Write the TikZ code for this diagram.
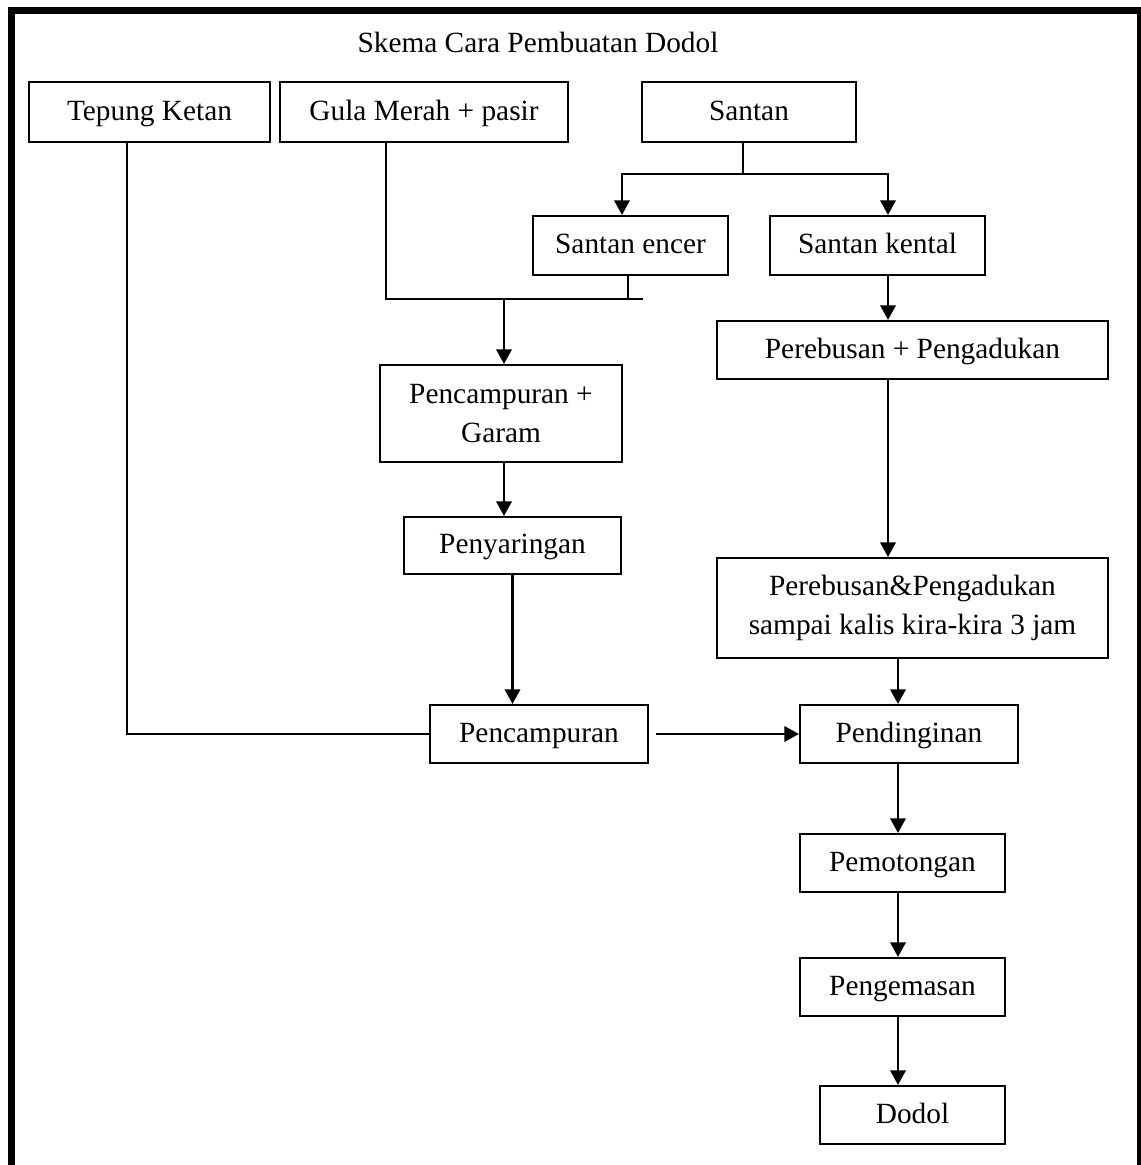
\documentclass[tikz,border=0pt]{standalone}
\usepackage{fontspec}
\setmainfont{Liberation Serif}
\usetikzlibrary{arrows.meta}
\newcommand{\mybox}[7][]{%
  \pgfmathsetmacro{\bxcx}{(#3+#5)/2}%
  \pgfmathsetmacro{\bxcy}{(#4+#6)/2}%
  \pgfmathsetmacro{\bxw}{(#5-#3)*0.75}%
  \pgfmathsetmacro{\bxh}{(#6-#4)*0.75}%
  \node[box, #1, minimum width=\bxw pt, minimum height=\bxh pt] (#2) at (\bxcx,\bxcy) {#7};}
\begin{document}
\begin{tikzpicture}[x=0.75pt, y=-0.75pt,
  box/.style={draw, line width=1.5pt, inner sep=0pt, align=center,
    font=\fontsize{22}{29.5}\selectfont},
  oneline/.style={text height=16pt, text depth=4pt},
  conn/.style={line width=1.9pt},
  arr/.style={line width=1.9pt, -{Triangle[length=11pt, width=11.5pt]}}]
\useasboundingbox (0,0) rectangle (1141,1165);
\fill[white] (0,0) rectangle (1141,1165);
% frame
\draw[line width=5.2pt] (11.5,1166) -- (11.5,10.5) -- (1140,10.5) -- (1140,1166);
% title
\node[font=\fontsize{22}{29.5}\selectfont, text height=16pt, text depth=4pt] (title) at (538,44) {Skema Cara Pembuatan Dodol};
% boxes
\mybox[oneline]{tepung}{29}{82}{270}{142}{Tepung Ketan}
\mybox[oneline]{gula}{280}{82}{568}{142}{Gula Merah + pasir}
\mybox[oneline]{santan}{642}{82}{856}{142}{Santan}
\mybox[oneline]{encer}{533}{216}{728}{275}{Santan encer}
\mybox[oneline]{kental}{770}{216}{985}{275}{Santan kental}
\mybox{pgaram}{380}{365}{622}{462}{Pencampuran +\\Garam}
\mybox[oneline]{peny}{404}{517}{621}{574}{Penyaringan}
\mybox[oneline]{campur}{430}{705}{648}{763}{Pencampuran}
\mybox[oneline]{rebusA}{717}{321}{1108}{379}{Perebusan + Pengadukan}
\mybox{rebusB}{717}{558}{1108}{658}{Perebusan\&Pengadukan\\sampai kalis kira-kira 3 jam}
\mybox[oneline]{dingin}{800}{705}{1018}{763}{Pendinginan}
\mybox[oneline]{potong}{800}{834}{1005}{892}{Pemotongan}
\mybox[oneline]{kemas}{800}{958}{1005}{1016}{Pengemasan}
\mybox[oneline]{dodol}{820}{1086}{1005}{1144}{Dodol}
% helper coordinates
\coordinate (jS) at (743,174);
\coordinate (jG) at (504,299);
\coordinate (xE) at (622,0);
\coordinate (xK) at (888,0);
\coordinate (xP) at (898,0);
\coordinate (xGula) at (386,0);
\coordinate (xEnc) at (628,0);
\coordinate (xTep) at (127,0);
\coordinate (jEnd) at (643,299);
% santan split
\draw[conn] (santan.south -| jS) -- (jS);
\draw[arr] (jS) -| (xE |- encer.north);
\draw[arr] (jS) -| (xK |- kental.north);
% gula + santan encer
\draw[conn] (xGula |- gula.south) |- (jEnd);
\draw[conn] (xEnc |- encer.south) -- (xEnc |- jG);
\draw[arr] (jG) -- (jG |- pgaram.north);
\draw[arr] (jG |- pgaram.south) -- (jG |- peny.north);
\draw[arr] (peny.south) -- (peny.south |- campur.north);
% tepung
\draw[conn] (xTep |- tepung.south) |- (campur.west);
% pencampuran -> pendinginan
\draw[arr] ([xshift=5pt]campur.east) -- (dingin.west);
% right column
\draw[arr] (xK |- kental.south) -- (xK |- rebusA.north);
\draw[arr] (xK |- rebusA.south) -- (xK |- rebusB.north);
\draw[arr] (xP |- rebusB.south) -- (xP |- dingin.north);
\draw[arr] (xP |- dingin.south) -- (xP |- potong.north);
\draw[arr] (xP |- potong.south) -- (xP |- kemas.north);
\draw[arr] (xP |- kemas.south) -- (xP |- dodol.north);
\end{tikzpicture}
\end{document}
